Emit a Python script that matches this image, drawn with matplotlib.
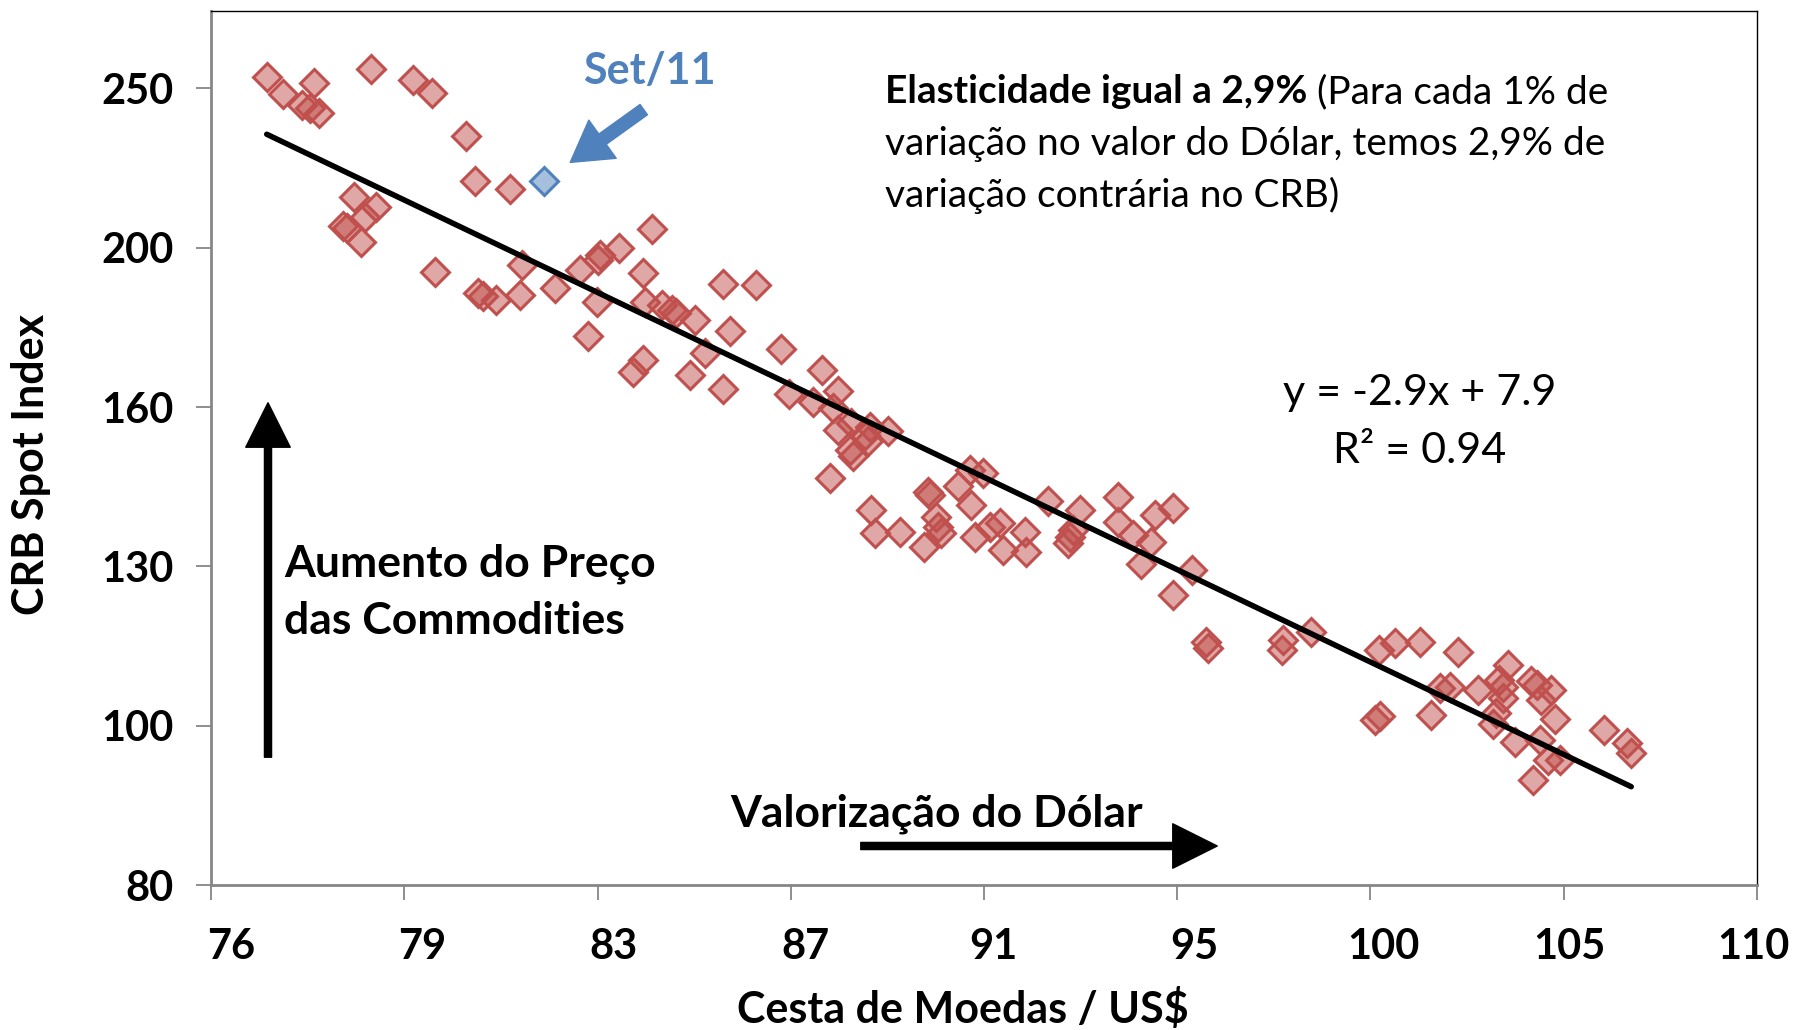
import numpy as np
import matplotlib
matplotlib.use("Agg")
import matplotlib.pyplot as plt
from matplotlib.ticker import FixedLocator, FixedFormatter, NullLocator
from matplotlib.transforms import ScaledTranslation

# ---------------- data ----------------
dollar_index = [
    77.02, 77.32, 77.89, 77.67, 77.82, 77.98, 78.97, 79.76, 80.12, 80.78, 80.95, 81.64,
    78.64, 79.05, 78.86, 78.51, 78.44, 78.78, 80.18, 81.02, 81.11, 81.37, 81.83, 81.87,
    82.52, 83.02, 83.38, 83.41, 83.78, 84.45, 84.27, 83.35, 83.18, 84.32, 84.65, 84.86,
    84.94, 85.33, 84.08, 84.28, 85.23, 85.53,
    85.89, 86.58, 86.04, 85.89, 87.09, 87.95, 88.29, 87.27, 87.77, 88.19, 88.29, 88.58,
    88.86, 88.97, 89.36, 88.54, 88.61, 88.93, 88.12, 89.00, 89.07, 89.61, 90.22, 90.25,
    90.40, 90.43, 90.14, 90.50, 90.87, 91.16, 91.12, 91.41, 91.23, 91.56, 91.85,
    91.78, 92.33, 92.36, 92.84, 93.55, 93.33, 93.29, 93.39, 94.41, 94.41, 94.75, 94.94,
    95.17, 95.24, 95.66, 96.09, 95.66, 96.43, 96.47,
    98.21, 98.18, 98.88, 100.49, 100.87, 101.48, 102.41, 100.39, 100.51, 101.96, 102.21,
    101.76, 102.90, 103.64, 103.52, 103.43, 103.52, 103.35, 103.27, 103.81, 104.22,
    104.35, 104.72, 104.47, 104.80, 104.43, 104.64, 104.93, 104.26, 106.06, 106.62, 106.74,
]
crb_index = [
    248.0, 242.3, 246.1, 238.6, 237.6, 236.0, 250.8, 247.1, 242.5, 228.5, 214.5, 212.0,
    209.8, 206.9, 204.0, 200.7, 201.4, 197.0, 188.7, 183.3, 182.6, 181.5, 182.8, 190.7,
    184.5, 189.3, 192.0, 193.4, 195.2, 200.5, 188.5, 181.1, 172.6, 181.1, 180.3, 179.0,
    178.3, 176.5, 164.2, 166.9, 163.4, 168.5,
    185.6, 185.4, 173.9, 160.2, 169.4, 164.6, 159.7, 159.1, 157.4, 156.0, 151.3, 152.7,
    150.3, 152.0, 151.0, 147.1, 145.8, 148.9, 141.4, 135.3, 130.9, 131.2, 138.8, 138.1,
    134.0, 132.1, 128.5, 130.9, 139.8, 136.2, 143.1, 142.4, 130.3, 132.1, 127.9,
    132.8, 131.2, 127.6, 136.9, 135.3, 130.3, 129.1, 131.5, 137.8, 133.1, 130.6, 125.5,
    129.4, 134.3, 135.6, 124.4, 120.1, 112.5, 111.5,
    112.8, 111.2, 114.1, 111.2, 112.2, 112.5, 110.9, 100.8, 101.3, 105.4, 105.6, 101.5,
    105.1, 108.9, 105.6, 106.6, 103.9, 101.8, 100.3, 97.8, 106.4, 105.9, 105.1, 103.7,
    101.0, 98.0, 95.3, 95.3, 92.7, 99.4, 97.6, 96.2,
]
set11_x = [82.30]
set11_y = [214.6]

x_tick_labels = ["76", "79", "83", "87", "91", "95", "100", "105", "110"]
y_tick_labels = ["80", "100", "130", "160", "200", "250"]

# ---------------- figure ----------------
W, H = 1798, 1030
plt.rcParams['font.family'] = ['Lato', 'DejaVu Sans']
fig = plt.figure(figsize=(W / 100, H / 100), dpi=100)
L, R, T, B = 211, 1757, 11, 885
ax = fig.add_axes([L / W, 1 - B / H, (R - L) / W, (B - T) / H])
ax.set_xscale('log')
ax.set_yscale('log')

# axis ticks: equally spaced in log space
x_ticks = np.geomspace(76, 110, len(x_tick_labels))
y_ratio = 1.25
y_ticks = 80 * y_ratio ** np.arange(len(y_tick_labels))
ax.set_xlim(76, 110)
ax.set_ylim(80, 80 * y_ratio ** 5.486)

ax.xaxis.set_major_locator(FixedLocator(x_ticks))
ax.xaxis.set_major_formatter(FixedFormatter(x_tick_labels))
ax.yaxis.set_major_locator(FixedLocator(y_ticks))
ax.yaxis.set_major_formatter(FixedFormatter(y_tick_labels))
ax.xaxis.set_minor_locator(NullLocator())
ax.yaxis.set_minor_locator(NullLocator())

ax.tick_params(axis='both', direction='out', length=11, width=1.3, color='#868686',
               labelsize=30)
ax.tick_params(axis='x', pad=20)
ax.tick_params(axis='y', pad=16)
for lbl in ax.get_xticklabels() + ax.get_yticklabels():
    lbl.set_fontweight('bold')
# small horizontal shifts of the x labels, as in the original (pixels)
x_label_shift = [20, 18, 16, 15, 9, 17, 13, 6, -4]
for lbl, dx in zip(ax.get_xticklabels(), x_label_shift):
    lbl.set_transform(lbl.get_transform() + ScaledTranslation(dx / 100, 0, fig.dpi_scale_trans))

for s in ('left', 'bottom'):
    ax.spines[s].set_color('#868686')
    ax.spines[s].set_linewidth(2.0)
for s in ('top', 'right'):
    ax.spines[s].set_color('black')
    ax.spines[s].set_linewidth(1.0)

# scatter
ax.plot(dollar_index, crb_index, 'D', ms=14, mfc=(0.753, 0.314, 0.302, 0.5),
        mec='#C0504D', mew=2.2, ls='none', zorder=3)
ax.plot(set11_x, set11_y, 'D', ms=14, mfc=(0.31, 0.506, 0.741, 0.5),
        mec='#4F81BD', mew=2.2, ls='none', zorder=3)

# trend line (power fit in log-log)
all_x = np.array(dollar_index + set11_x)
all_y = np.array(crb_index + set11_y)
b, a = np.polyfit(np.log(all_x), np.log(all_y), 1)
xl = np.array([all_x.min(), all_x.max()])
ax.plot(xl, np.exp(a) * xl ** b, color='black', lw=4.0, solid_capstyle='round', zorder=4)

# ---------------- texts ----------------
def fx(px):
    return px / W

def fy(py):
    return 1 - py / H

fig.text(fx(31), fy(464), "CRB Spot Index", rotation=90, ha='center', va='center',
         fontsize=31, fontweight='bold')
fig.text(fx(963), fy(1009), "Cesta de Moedas / US$", ha='center', va='center',
         fontsize=31, fontweight='bold')

fig.text(fx(649), fy(71), "Set/11", ha='center', va='center', fontsize=31,
         fontweight='bold', color='#4F81BD')
fig.add_artist(matplotlib.patches.FancyArrowPatch(
    (fx(646), fy(108)), (fx(568), fy(164)), transform=fig.transFigure,
    arrowstyle='simple,head_length=1.1,head_width=1.3,tail_width=0.35',
    mutation_scale=26, color='#4F81BD'))

# elasticity note
FS = 28
t1 = fig.text(fx(885), fy(103), "Elasticidade igual a 2,9%", ha='left', va='baseline',
              fontsize=FS, fontweight='bold')
fig.canvas.draw()
bb = t1.get_window_extent()
fig.text(bb.x1 / W, fy(103), " (Para cada 1% de", ha='left', va='baseline', fontsize=FS)
fig.text(fx(885), fy(155), "variação no valor do Dólar, temos 2,9% de", ha='left',
         va='baseline', fontsize=FS)
fig.text(fx(885), fy(207), "variação contrária no CRB)", ha='left', va='baseline',
         fontsize=FS)

fig.text(fx(1420), fy(405), "y = -2.9x + 7.9", ha='center', va='baseline', fontsize=31)
fig.text(fx(1420), fy(463), "R² = 0.94", ha='center', va='baseline', fontsize=31)

fig.text(fx(284), fy(577), "Aumento do Preço", ha='left', va='baseline', fontsize=32,
         fontweight='bold')
fig.text(fx(284), fy(634), "das Commodities", ha='left', va='baseline', fontsize=32,
         fontweight='bold')
fig.text(fx(937), fy(826), "Valorização do Dólar", ha='center', va='baseline',
         fontsize=32, fontweight='bold')

fig.add_artist(matplotlib.patches.FancyArrowPatch(
    (fx(268), fy(760)), (fx(268), fy(400)), transform=fig.transFigure,
    arrowstyle='simple,head_length=1.0,head_width=1.0,tail_width=0.16',
    mutation_scale=32, color='black'))
fig.add_artist(matplotlib.patches.FancyArrowPatch(
    (fx(858), fy(846)), (fx(1220), fy(846)), transform=fig.transFigure,
    arrowstyle='simple,head_length=1.0,head_width=1.0,tail_width=0.16',
    mutation_scale=32, color='black'))

fig.savefig("out.png", dpi=100, facecolor='white')
